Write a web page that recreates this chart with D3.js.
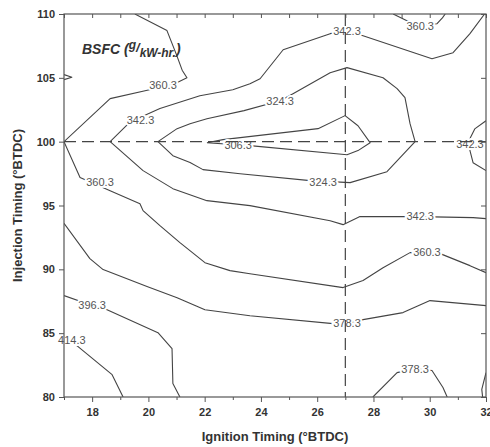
<!DOCTYPE html>
<html><head><meta charset="utf-8">
<script src="https://cdn.jsdelivr.net/npm/d3@7"></script>
<style>body{margin:0;background:#fff;} svg{display:block;font-family:"Liberation Sans",Arial,sans-serif;}</style>
</head><body><svg id="c" width="490" height="447"></svg>
<script>
// ---- data ----
const xTicks = [18,20,22,24,26,28,30,32];
const yTicks = [80,85,90,95,100,105,110];
const refX = 27, refY = 100;

const c306 = [[22.08,99.92],[22.65,100.16],[26.03,101.02],[26.99,102.04],[27.45,101.25],[27.88,99.92],[27.45,99.3],[27.06,98.98],[23.61,99.69],[22.08,99.92]];
const c324 = [[20.34,100],[21.02,101.02],[21.48,101.41],[22.08,101.8],[23.4,102.43],[24.68,103.2],[25.14,103.76],[26.46,105.4],[27.06,105.8],[28.34,105.01],[28.84,104.15],[29.12,103.45],[29.3,101.41],[29.48,100],[28.48,97.65],[27.17,96.79],[25.75,96.95],[23.26,97.49],[21.94,97.81],[21.48,98.36],[20.87,98.9],[20.34,100]];
const c342a = [[31.95,110],[31.43,108.46],[30.83,106.97],[30.08,106.5],[27.63,108.3],[27.06,108.69],[26.46,108.46],[24.79,107.2],[23.97,104.93],[23.61,104.54],[23.0,104.07],[21.83,103.6],[20.41,102.6],[19.7,101.9],[19.28,101.4],[18.64,100],[19.81,97.73],[20.87,96.32],[22.08,95.38],[23.61,94.99],[26.46,93.81],[26.92,93.5],[27.52,94.13],[29.66,94.13],[31.54,94.05],[32,93.97]];
const c342b = [[32,101.64],[31.6,101.0],[31.43,100.24],[31.43,99.3],[31.54,98.35],[32,97.73]];
const c360a = [[19.52,110],[20.66,108.7],[21.0,106.8],[21.2,105.6],[21.37,105.0],[20.9,104.5],[20.0,104.05],[18.64,103.37],[17,100]];
const c360b = [[17,100],[17.57,97.2],[18.64,96.16],[19.7,95.14],[19.81,94.6],[20.41,93.42],[21.12,92.09],[22.01,90.52],[22.9,89.9],[23.61,89.66],[26.92,88.57],[27.63,89.12],[28.34,90.13],[29.3,91.31],[30.37,91.23],[31.43,90.29],[32,89.74]];
const c360c = [[28.7,110],[29.19,109.48],[29.66,109.1],[30.26,109.24],[30.45,109.7],[30.55,110]];
const c360d = [[32,81.9],[31.85,80.6],[31.88,80]];
const c360e = [[17,105.25],[17.28,105.05],[17,104.86]];
const c378a = [[17,93.6],[17.92,90.84],[18.39,89.98],[19.95,88.65],[21.02,87.78],[22.01,86.84],[23.61,86.37],[26.56,85.75],[27.06,85.75],[27.63,86.06],[29.05,86.61],[30.01,87.55],[32,87.16]];
const c378b = [[27.98,80],[28.84,81.91],[29.48,82.22],[30.08,82.07],[30.47,80.74],[30.62,80]];
const c396 = [[17,87.94],[18.0,87.16],[18.53,86.84],[20.34,85.04],[20.84,83.79],[20.87,81.05],[21.12,80]];
const c414 = [[17,84.7],[17.5,83.95],[18.71,81.75],[19.1,80]];

const contourLines = [c306,c324,c342a,c342b,c360a,c360b,c360c,c360d,c360e,c378a,c378b,c396,c414];

const labelText = ["360.3","342.3","306.3","324.3","342.3","360.3","342.3","360.3","324.3","342.3","360.3","378.3","396.3","414.3","378.3"];
const labelX    = [20.52, 19.72, 23.19, 24.68, 27.06, 29.66, 31.43, 18.28, 26.21, 29.66, 29.9, 27.06, 18.0, 17.28, 29.48];
const labelY    = [104.39,101.72,99.69, 103.21,108.62,109.08,99.77, 96.79, 96.79, 94.13, 91.31, 85.75, 87.16, 84.42, 82.22];

// ---- layout ----
const L = 64, R = 486, T = 14, B = 397;
const svg = d3.select("#c");
const x = d3.scaleLinear().domain([17,32]).range([L,R]);
const y = d3.scaleLinear().domain([80,110]).range([B,T]);
const ink = "#444";

svg.append("rect").attr("width",490).attr("height",447).attr("fill","#fff");
svg.append("defs").append("clipPath").attr("id","pc")
  .append("rect").attr("x",L).attr("y",T).attr("width",R-L).attr("height",B-T);

const line = d3.line().x(d=>x(d[0])).y(d=>y(d[1]));
const g = svg.append("g").attr("clip-path","url(#pc)");
g.selectAll("path.c").data(contourLines).join("path")
  .attr("d",line).attr("fill","none").attr("stroke",ink).attr("stroke-width",1.1).attr("stroke-linejoin","round");

// contour labels with halo
svg.append("g").selectAll("text").data(labelText).join("text")
  .attr("x",(d,i)=>x(labelX[i])).attr("y",(d,i)=>y(labelY[i]))
  .attr("dy","0.35em").attr("text-anchor","middle")
  .attr("font-size",11).attr("fill","#555")
  .attr("stroke","#fff").attr("stroke-width",4).attr("paint-order","stroke")
  .text(d=>d);

// reference dashed lines
const dg = svg.append("g").attr("clip-path","url(#pc)");
dg.append("line").attr("x1",x(refX)).attr("x2",x(refX)).attr("y1",T).attr("y2",B)
  .attr("stroke",ink).attr("stroke-width",1.2).attr("stroke-dasharray","12,6");
dg.append("line").attr("x1",L).attr("x2",R).attr("y1",y(refY)).attr("y2",y(refY))
  .attr("stroke",ink).attr("stroke-width",1.2).attr("stroke-dasharray","12,6");

// axes
const minorX = d3.range(17,33,1);
const axB = svg.append("g").attr("transform",`translate(0,${B})`)
  .call(d3.axisBottom(x).tickValues(xTicks).tickSize(5).tickPadding(6).tickFormat(d3.format("d")));
svg.append("g").attr("transform",`translate(0,${B})`)
  .call(d3.axisBottom(x).tickValues(minorX.filter(v=>v%2)).tickSize(3).tickFormat(""));
const axL = svg.append("g").attr("transform",`translate(${L},0)`)
  .call(d3.axisLeft(y).tickValues(yTicks).tickSize(5).tickPadding(4).tickFormat(d3.format("d")));
svg.append("g").attr("transform",`translate(0,${T})`)
  .call(d3.axisBottom(x).tickValues(minorX).tickSize(4).tickFormat(""));
svg.append("g").attr("transform",`translate(${R},0)`)
  .call(d3.axisLeft(y).tickValues(yTicks).tickSize(5).tickFormat(""));
svg.selectAll(".domain").remove();
svg.selectAll(".tick line").attr("stroke","#555");
svg.selectAll(".tick text").attr("font-size",11).attr("font-weight","bold").attr("fill","#333")
  .attr("font-family","'Liberation Sans',Arial,sans-serif");

svg.append("rect").attr("x",L).attr("y",T).attr("width",R-L).attr("height",B-T)
  .attr("fill","none").attr("stroke","#555").attr("stroke-width",1.2);

// axis titles
svg.append("text").attr("x",(L+R)/2).attr("y",441).attr("text-anchor","middle")
  .attr("font-size",13).attr("font-weight","bold").attr("fill","#333")
  .text("Ignition Timing (°BTDC)");
svg.append("text").attr("transform",`translate(22,${(T+B)/2}) rotate(-90)`).attr("text-anchor","middle")
  .attr("font-size",13).attr("font-weight","bold").attr("fill","#333")
  .text("Injection Timing (°BTDC)");

// plot title
const tt = svg.append("text").attr("x",82).attr("y",54).attr("font-size",14)
  .attr("font-weight","bold").attr("font-style","italic").attr("fill","#333");
tt.append("tspan").text("BSFC (");
tt.append("tspan").attr("font-size",12).attr("dy",-5).text("g");
tt.append("tspan").attr("font-size",13).attr("dy",3).text("/");
tt.append("tspan").attr("font-size",12).attr("dy",5).text("kW-hr.");
tt.append("tspan").attr("font-size",14).attr("dy",-3).text(")");
</script></body></html>
